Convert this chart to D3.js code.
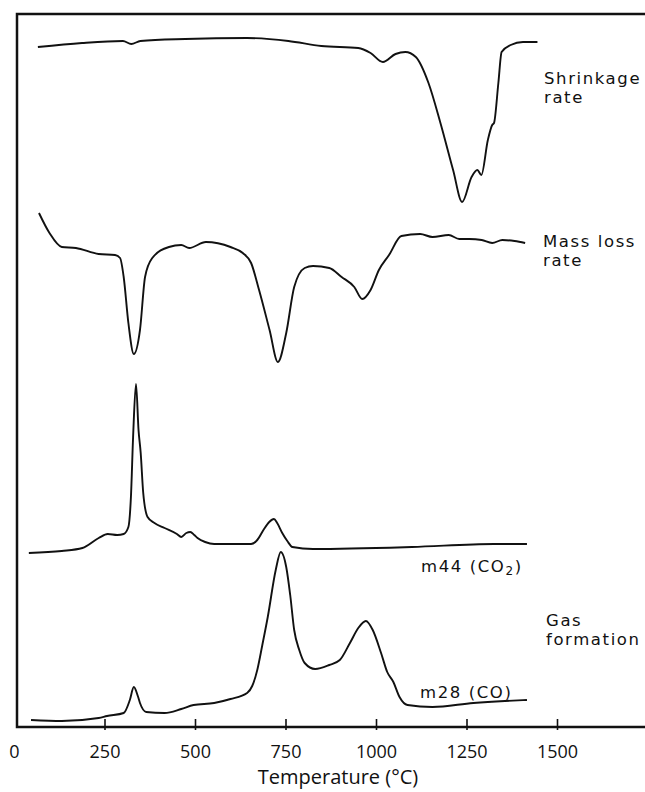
<!DOCTYPE html>
<html>
<head>
<meta charset="utf-8">
<script src="https://cdn.jsdelivr.net/npm/d3@7"></script>
<style>
  html, body { margin: 0; padding: 0; background: #fff; }
  svg { display: block; }
  .lbl { font-family: "DejaVu Sans", sans-serif; font-size: 16.5px; letter-spacing: 1.6px; fill: #111; }
  .tick text { font-family: "Open Sans", sans-serif; font-size: 18px; fill: #111; }
</style>
</head>
<body>
<svg id="chart" width="645" height="792"></svg>
<script>
// Temperature (°C) and relative signal (arbitrary units, stacked as drawn)
const shrinkT = [66,188,301,324,349,473,644,758,849,951,985,1019,1054,1081,1110,1145,1178,1213,1238,1264,1280,1291,1309,1321,1326,1338,1347,1372,1406,1446];
const shrinkV = [680,684,686,683,686,688,689,686,681,679,674,665,673,675,670,644,604,557,525,550,557,552,587,602,604,644,675,682,685,685];

const massT = [69,98,132,171,234,279,293,303,316,331,348,362,382,428,462,484,530,598,632,655,677,706,729,752,774,803,826,871,905,940,962,985,1008,1036,1070,1122,1156,1201,1230,1258,1292,1321,1349,1383,1412];
const massV = [514,494,480,479,473,472,469,450,404,373,397,450,469,480,482,479,485,480,474,464,437,397,365,394,440,459,461,459,450,440,428,437,457,472,491,493,490,492,488,488,487,484,487,486,484];

const co2T = [41,132,189,234,259,285,303,316,323,329,337,344,350,357,369,388,416,450,462,476,487,498,507,528,553,655,672,689,705,718,727,741,755,769,826,1099,1326,1417];
const co2V = [174,176,179,189,193,192,193,200,230,290,343,297,274,234,210,204,199,193,190,194,195,192,189,185,183,183,187,197,205,208,204,194,186,180,178,180,183,183];

const coT = [47,132,234,257,303,320,331,342,348,365,416,462,496,553,598,644,658,672,686,701,723,737,752,763,774,788,803,832,871,900,928,951,972,991,1014,1031,1048,1065,1087,1156,1269,1356,1417];
const coV = [7,6,9,11,14,27,40,31,24,15,14,18,22,24,28,34,41,57,82,110,157,175,160,132,97,77,64,58,62,67,84,99,106,97,74,55,45,30,22,20,24,26,27];

const xTicks = [0,250,500,750,1000,1250,1500];
const xTitle = "Temperature (°C)";

const svg = d3.select("#chart");
const x = d3.scaleLinear().domain([0, 1500]).range([14, 557]);
const y = d3.scaleLinear().domain([0, 713]).range([727, 14]);

const frameLeft = 17, frameTop = 14, frameRight = 645, frameBottom = 727;

// frame
svg.append("path")
  .attr("d", `M${frameRight},${frameTop}H${frameLeft}V${frameBottom}H${frameRight}`)
  .attr("fill", "none").attr("stroke", "#111").attr("stroke-width", 2.5);

// x axis ticks & labels
const axis = d3.axisBottom(x).tickValues(xTicks).tickSize(0).tickPadding(0).tickFormat(d3.format("d"));
const ag = svg.append("g").attr("transform", `translate(0,${frameBottom})`).call(axis);
ag.select(".domain").remove();
ag.selectAll(".tick text").attr("y", 31).attr("dy", 0);
ag.selectAll(".tick").filter(d => d !== 0).append("line")
  .attr("y1", -8).attr("y2", 3).attr("stroke", "#111").attr("stroke-width", 1.6);

svg.append("text").attr("x", 338).attr("y", 784).attr("text-anchor", "middle")
  .style("font-family", "'Open Sans', sans-serif").style("font-size", "20px").attr("fill", "#111")
  .text(xTitle);

// curves
const line = d3.line().x(d => x(d[0])).y(d => y(d[1])).curve(d3.curveMonotoneX);
const series = [[shrinkT, shrinkV], [massT, massV], [co2T, co2V], [coT, coV]];
series.forEach(([t, v]) => {
  svg.append("path").datum(t.map((tt, i) => [tt, v[i]]))
    .attr("d", line).attr("fill", "none").attr("stroke", "#111")
    .attr("stroke-width", 1.9).attr("stroke-linejoin", "round");
});

// labels
function lbl(xp, yp, txt) {
  return svg.append("text").attr("class", "lbl").attr("x", xp).attr("y", yp).text(txt);
}
lbl(544, 84, "Shrinkage");
lbl(544, 103, "rate");
lbl(543, 247, "Mass loss");
lbl(543, 266, "rate");
const m44 = svg.append("text").attr("class", "lbl").attr("x", 421).attr("y", 572);
m44.append("tspan").text("m44 (CO");
m44.append("tspan").attr("dy", 3).style("font-size", "12px").text("2");
m44.append("tspan").attr("dy", -3).text(")");
lbl(546, 626, "Gas");
lbl(546, 645, "formation");
lbl(420, 698, "m28 (CO)");
</script>
</body>
</html>
